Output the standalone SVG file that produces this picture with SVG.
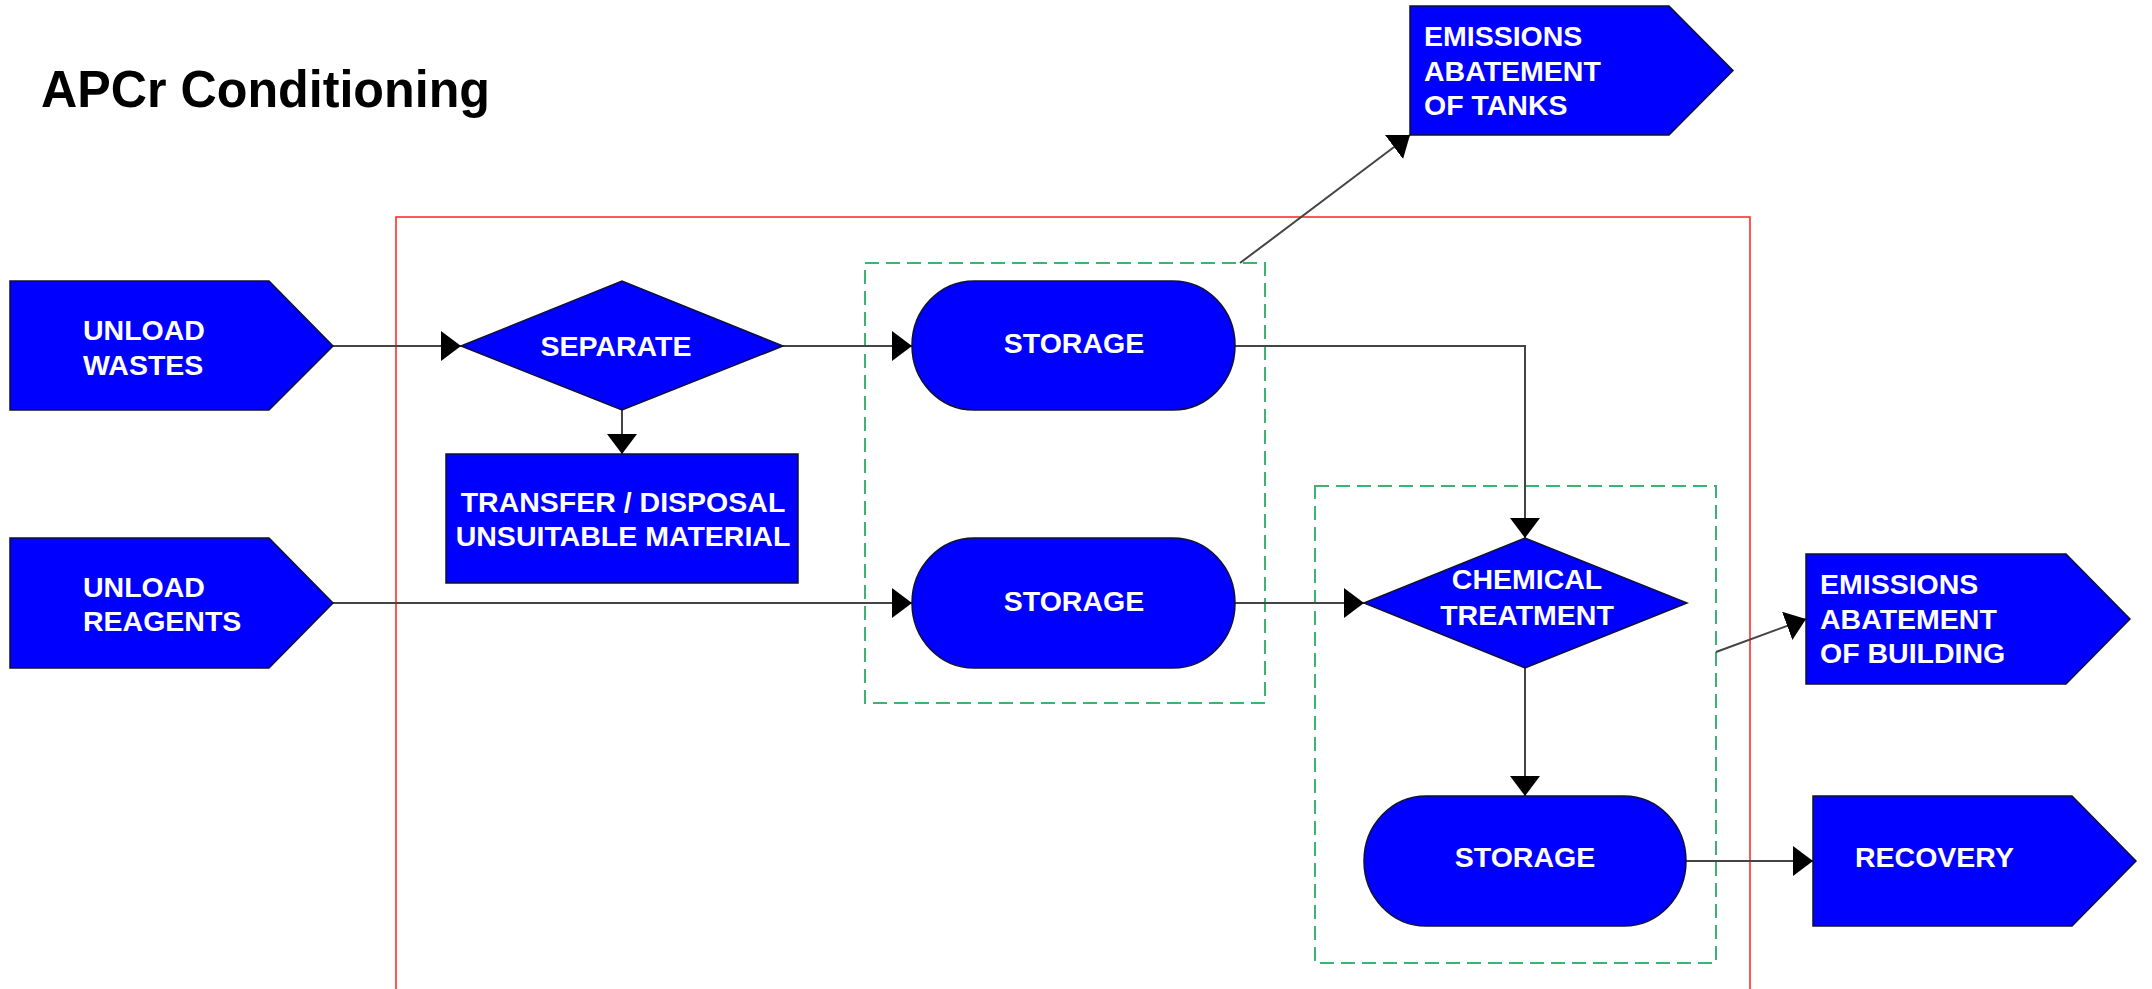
<svg xmlns="http://www.w3.org/2000/svg" width="2152" height="989" viewBox="0 0 2152 989">
<style>
.node{fill:#0000FF;stroke:#111133;stroke-width:1.5}
.lbl{fill:#FFFFFF;font-family:"Liberation Sans",Arial,sans-serif;font-weight:bold;font-size:28.5px}
.mid{text-anchor:middle}
.conn{fill:none;stroke:#444444;stroke-width:2}
.grp{fill:none;stroke:#3CB371;stroke-width:2;stroke-dasharray:14 7}
.title{font-family:"Liberation Sans",Arial,sans-serif;font-weight:bold;font-size:52px;fill:#000000}
</style>
<defs>
<marker id="arr" markerUnits="userSpaceOnUse" markerWidth="21" markerHeight="31" refX="20" refY="15" orient="auto">
<path d="M0,0 L20,15 L0,30 Z" fill="#000000"/>
</marker>
</defs>
<rect width="2152" height="989" fill="#FFFFFF"/>
<text class="title" x="41" y="107" textLength="449" lengthAdjust="spacingAndGlyphs">APCr Conditioning</text>
<rect x="396" y="217" width="1354" height="790" fill="none" stroke="#FF2020" stroke-width="1.5"/>
<rect class="grp" x="865" y="263" width="400" height="440"/>
<rect class="grp" x="1315" y="486" width="401" height="477"/>
<g id="connectors">
<path class="conn" d="M333,346 H461" marker-end="url(#arr)"/>
<path class="conn" d="M622,410 V454" marker-end="url(#arr)"/>
<path class="conn" d="M783,346 H912" marker-end="url(#arr)"/>
<path class="conn" d="M333,603 H912" marker-end="url(#arr)"/>
<path class="conn" d="M1235,346 H1525 V538" marker-end="url(#arr)"/>
<path class="conn" d="M1235,603 H1364" marker-end="url(#arr)"/>
<path class="conn" d="M1525,668 V796" marker-end="url(#arr)"/>
<path class="conn" d="M1686,861 H1813" marker-end="url(#arr)"/>
<path class="conn" d="M1240,263 L1410,135" marker-end="url(#arr)"/>
<path class="conn" d="M1716,652 L1806,619" marker-end="url(#arr)"/>
</g>
<g id="unload-wastes">
<path class="node" d="M10,281 H269 L333,346 L269,410 H10 Z"/>
<text class="lbl" x="83" y="340">UNLOAD</text>
<text class="lbl" x="83" y="375">WASTES</text>
</g>
<g id="unload-reagents">
<path class="node" d="M10,538 H269 L333,603 L269,668 H10 Z"/>
<text class="lbl" x="83" y="597">UNLOAD</text>
<text class="lbl" x="83" y="631">REAGENTS</text>
</g>
<g id="separate">
<path class="node" d="M461,346 L622,281 L783,346 L622,410 Z"/>
<text class="lbl mid" x="616" y="356">SEPARATE</text>
</g>
<g id="transfer">
<rect class="node" x="446" y="454" width="352" height="129"/>
<text class="lbl mid" x="623" y="512">TRANSFER / DISPOSAL</text>
<text class="lbl mid" x="623" y="546">UNSUITABLE MATERIAL</text>
</g>
<g id="storage1">
<rect class="node" x="912" y="281" width="323" height="129" rx="62" ry="64.5"/>
<text class="lbl mid" x="1074" y="353">STORAGE</text>
</g>
<g id="storage2">
<rect class="node" x="912" y="538" width="323" height="130" rx="62" ry="65"/>
<text class="lbl mid" x="1074" y="611">STORAGE</text>
</g>
<g id="chemical-treatment">
<path class="node" d="M1364,603 L1525,538 L1687,603 L1525,668 Z"/>
<text class="lbl mid" x="1527" y="589">CHEMICAL</text>
<text class="lbl mid" x="1527" y="625">TREATMENT</text>
</g>
<g id="storage3">
<rect class="node" x="1364" y="796" width="322" height="130" rx="62" ry="65"/>
<text class="lbl mid" x="1525" y="867">STORAGE</text>
</g>
<g id="emissions-tanks">
<path class="node" d="M1410,6 H1669 L1733,70.5 L1669,135 H1410 Z"/>
<text class="lbl" x="1424" y="46">EMISSIONS</text>
<text class="lbl" x="1424" y="81">ABATEMENT</text>
<text class="lbl" x="1424" y="115">OF TANKS</text>
</g>
<g id="emissions-building">
<path class="node" d="M1806,554 H2066 L2130,619 L2066,684 H1806 Z"/>
<text class="lbl" x="1820" y="594">EMISSIONS</text>
<text class="lbl" x="1820" y="629">ABATEMENT</text>
<text class="lbl" x="1820" y="663">OF BUILDING</text>
</g>
<g id="recovery">
<path class="node" d="M1813,796 H2072 L2136,861 L2072,926 H1813 Z"/>
<text class="lbl" x="1855" y="867">RECOVERY</text>
</g>
</svg>
